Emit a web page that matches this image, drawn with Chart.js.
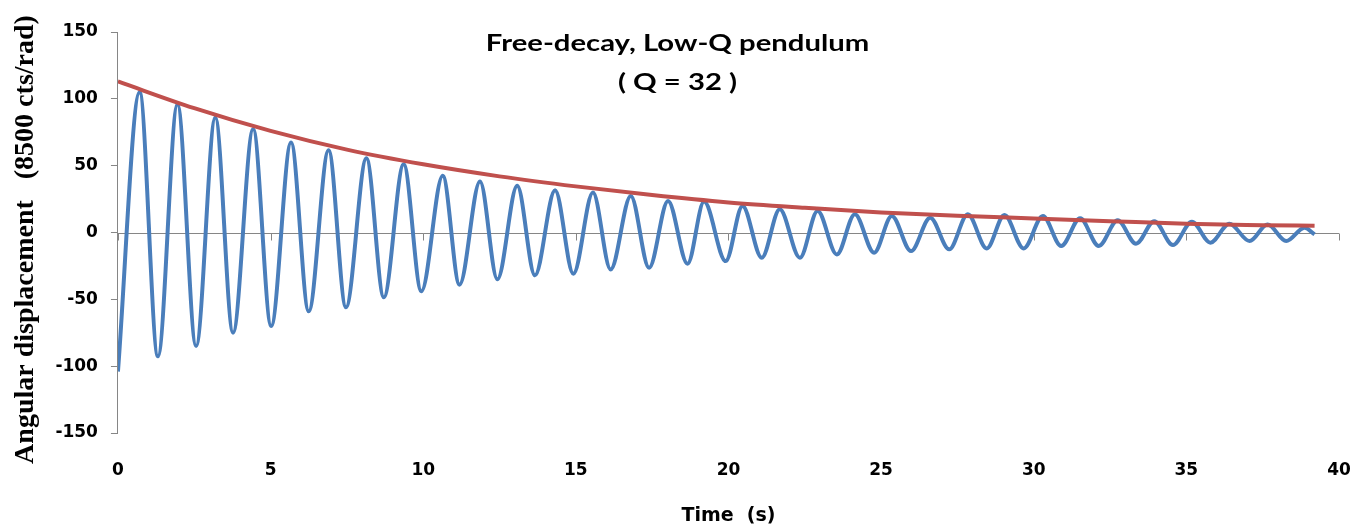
<!DOCTYPE html>
<html>
<head>
<meta charset="utf-8">
<script src="https://cdn.jsdelivr.net/npm/chart.js@4.4.1/dist/chart.umd.min.js"></script>
<style>
  html, body { margin: 0; padding: 0; background: #ffffff; }
  #wrap { width: 1355px; height: 527px; position: relative; }
</style>
</head>
<body>
<div id="wrap"><canvas id="c" width="1355" height="527"></canvas></div>
<script>
// ---- Data ----
const titleLines = ["Free-decay, Low-Q pendulum", "( Q = 32 )"];
const xTitle = "Time  (s)";
const yTitle = "Angular displacement   (8500 cts/rad)  ";
const xTicks = [0, 5, 10, 15, 20, 25, 30, 35, 40];
const yTicks = [-150, -100, -50, 0, 50, 100, 150];

// measured pendulum angle (peaks and troughs)
const blueTime = [0, 0.71, 1.31, 1.95, 2.56, 3.19, 3.77, 4.43, 5.02, 5.67, 6.25, 6.9, 7.47, 8.14, 8.71,
  9.36, 9.94, 10.64, 11.19, 11.86, 12.43, 13.08, 13.66, 14.32, 14.92, 15.56, 16.14, 16.8, 17.4, 18.02,
  18.66, 19.2, 19.91, 20.46, 21.09, 21.68, 22.34, 22.92, 23.55, 24.14, 24.77, 25.35, 25.98, 26.61, 27.23,
  27.84, 28.46, 29.04, 29.67, 30.3, 30.9, 31.52, 32.13, 32.75, 33.35, 33.95, 34.56, 35.18, 35.79, 36.41,
  37.07, 37.66, 38.27, 38.87, 39.2];
const blueAngle = [-104, 105, -92.6, 96, -85, 86, -75, 77.4, -70, 67.4, -59, 61.6, -56, 55.5, -48.5,
  51, -44, 42.4, -39, 38.1, -35, 34.9, -32, 31.6, -30.9, 29.9, -27.6, 27.4, -26.4, 23.6,
  -23.4, 23.1, -21.4, 19.9, -18.9, 17.4, -18.9, 16.1, -16.4, 13.6, -15.1, 12.4, -13.9, 11.1, -12.6,
  13.6, -11.9, 13.1, -11.9, 12.4, -10.1, 10.6, -10.1, 9.1, -8.4, 8.5, -9.4, 8.1, -7.6, 6.6,
  -6.4, 6, -6.4, 3.6, -1.4];

// exponential envelope
const redTime = [0, 2.5, 5, 7.5, 10, 12.5, 15, 17.5, 20, 22.5, 25, 27.5, 30, 32.5, 35, 37.5, 39.2];
const redEnvelope = [113, 93, 76, 62, 51, 42, 34.5, 28, 22.5, 18.5, 15, 12.5, 10.5, 8.5, 6.5, 5.5, 5];

const toPoints = (xs, ys) => xs.map((x, i) => ({ x: x, y: ys[i] }));

const axisGray = '#868686';

const zeroAxisPlugin = {
  id: 'zeroAxis',
  beforeDatasetsDraw(chart) {
    const { ctx, chartArea, scales } = chart;
    const xs = scales.x, ys = scales.y;
    const y0 = Math.round(ys.getPixelForValue(0)) + 0.5;
    ctx.save();
    ctx.strokeStyle = axisGray;
    ctx.lineWidth = 1;
    ctx.beginPath();
    ctx.moveTo(chartArea.left, y0);
    ctx.lineTo(chartArea.right, y0);
    xTicks.forEach(t => {
      const px = Math.round(xs.getPixelForValue(t)) + 0.5;
      ctx.moveTo(px, y0);
      ctx.lineTo(px, y0 + 7);
    });
    ctx.stroke();
    ctx.restore();
  }
};

const titlePlugin = {
  id: 'insideTitle',
  afterDraw(chart) {
    const { ctx, chartArea } = chart;
    ctx.save();
    ctx.fillStyle = '#000000';
    ctx.textAlign = 'center';
    ctx.textBaseline = 'middle';
    ctx.font = 'bold 22px Lato';
    const cx = chart.width / 2;
    const stretch = 1.33;
    [[titleLines[0], chartArea.top + 12], [titleLines[1], chartArea.top + 51]].forEach(([txt, cy]) => {
      ctx.save();
      ctx.translate(cx, cy);
      ctx.scale(stretch, 1);
      ctx.fillText(txt, 0, 0);
      ctx.restore();
    });
    ctx.restore();
  }
};

new Chart(document.getElementById('c'), {
  type: 'line',
  data: {
    datasets: [
      {
        label: 'Envelope',
        data: toPoints(redTime, redEnvelope),
        borderColor: '#C0504D',
        borderWidth: 4,
        pointRadius: 0,
        cubicInterpolationMode: 'monotone',
        fill: false
      },
      {
        label: 'Angle',
        data: toPoints(blueTime, blueAngle),
        borderColor: '#4A7EBB',
        borderWidth: 4,
        pointRadius: 0,
        cubicInterpolationMode: 'monotone',
        fill: false
      }
    ]
  },
  plugins: [zeroAxisPlugin, titlePlugin],
  options: {
    responsive: false,
    animation: false,
    events: [],
    layout: { padding: { top: 32, right: 16, bottom: 0, left: 0 } },
    plugins: {
      legend: { display: false },
      title: { display: false },
      tooltip: { enabled: false }
    },
    scales: {
      x: {
        type: 'linear',
        min: 0,
        max: 40,
        afterBuildTicks(scale) { scale.ticks = xTicks.map(v => ({ value: v })); },
        grid: {
          display: true,
          drawOnChartArea: false,
          drawTicks: true,
          tickLength: 26,
          color: 'rgba(0,0,0,0)'
        },
        border: { display: false },
        ticks: {
          padding: 1,
          color: '#000000',
          font: { family: 'DejaVu Sans', weight: 'bold', size: 17 }
        },
        title: {
          display: true,
          text: xTitle,
          color: '#000000',
          font: { family: 'DejaVu Sans', weight: 'bold', size: 19 },
          padding: { top: 22.8, bottom: 0 }
        }
      },
      y: {
        type: 'linear',
        min: -150,
        max: 150,
        afterBuildTicks(scale) { scale.ticks = yTicks.map(v => ({ value: v })); },
        grid: {
          display: true,
          drawOnChartArea: false,
          drawTicks: true,
          tickLength: 7,
          color: axisGray
        },
        border: { display: true, color: axisGray, width: 1 },
        ticks: {
          padding: 13,
          color: '#000000',
          font: { family: 'DejaVu Sans', weight: 'bold', size: 17 }
        },
        title: {
          display: true,
          text: yTitle,
          color: '#000000',
          font: { family: 'Liberation Serif', weight: 'bold', size: 28 },
          padding: { top: 8.8, bottom: 0 }
        }
      }
    }
  }
});
</script>
</body>
</html>
